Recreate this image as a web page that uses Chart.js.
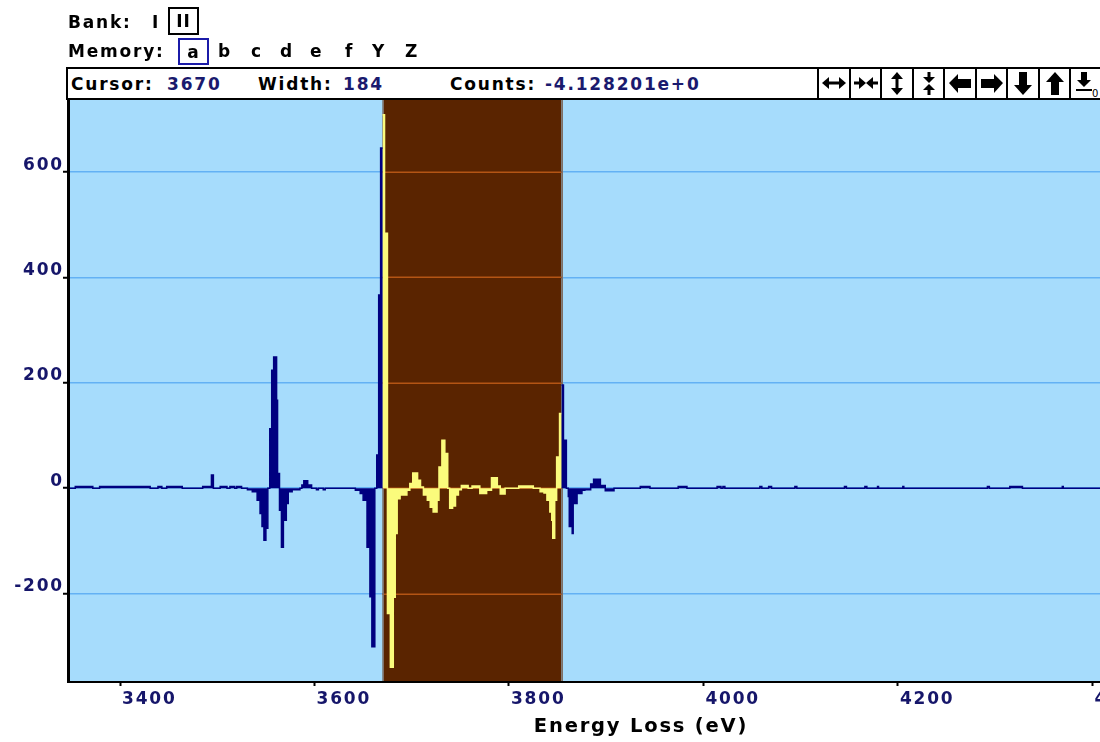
<!DOCTYPE html>
<html>
<head>
<meta charset="utf-8">
<title>Energy Loss spectrum</title>
<script src="https://cdn.jsdelivr.net/npm/chart.js@4/dist/chart.umd.min.js"></script>
<style>
  html, body { margin: 0; padding: 0; background: #fff; overflow: hidden; }
  body { width: 1100px; height: 742px; position: relative; font-family: "DejaVu Sans", sans-serif; }
  #spectrum { position: absolute; left: 0; top: 0; }
  .t { position: absolute; font-weight: bold; font-size: 17px; line-height: 20px; color: #000; letter-spacing: 1.8px; white-space: pre; }
  .num { color: #1a1a6e; }
  .box { position: absolute; box-sizing: border-box; border: 2px solid #000; display: flex; align-items: center; justify-content: center;
         font-weight: bold; font-size: 17px; letter-spacing: 1px; }
  .box.navy { border-color: #1b1ba8; }
  #status { position: absolute; left: 66px; top: 67px; width: 1180px; height: 33px; box-sizing: border-box; border: 2px solid #000; background: #fff; z-index: 2; }
  #status .t { top: 5px; }
  .btn { position: absolute; top: 0; width: 31.5px; height: 29px; box-sizing: border-box; border-left: 2px solid #000; }
  .btn svg { display: block; margin: 1px 0 0 1px; }
</style>
</head>
<body>
<canvas id="spectrum" width="1224" height="742"></canvas>

<span class="t" style="left:68px;top:12px">Bank:</span>
<span class="t" style="left:152px;top:12px">I</span>
<span class="box" style="left:168px;top:7px;width:31px;height:28px">II</span>
<span class="t" style="left:68px;top:41px">Memory:</span>
<span class="box navy" style="left:178px;top:38px;width:31px;height:27px">a</span>
<span class="t" style="left:218px;top:41px">b</span>
<span class="t" style="left:251px;top:41px">c</span>
<span class="t" style="left:280px;top:41px">d</span>
<span class="t" style="left:310px;top:41px">e</span>
<span class="t" style="left:345px;top:41px">f</span>
<span class="t" style="left:372px;top:41px">Y</span>
<span class="t" style="left:405px;top:41px">Z</span>

<div id="status">
  <span class="t" style="left:3px">Cursor:</span>
  <span class="t num" style="left:99px">3670</span>
  <span class="t" style="left:190px">Width:</span>
  <span class="t num" style="left:275px">184</span>
  <span class="t" style="left:382px">Counts:</span>
  <span class="t num" style="left:477px">-4.128201e+0</span>

  <div class="btn" style="left:749px"><svg width="28" height="27" viewBox="0 0 28 27">
    <polygon points="2,13 9,7 9,19"/><rect x="9" y="11.5" width="10" height="3"/><polygon points="26,13 19,7 19,19"/></svg></div>
  <div class="btn" style="left:780.5px"><svg width="28" height="27" viewBox="0 0 28 27">
    <rect x="2" y="11.5" width="5" height="3"/><polygon points="14,13 7,7 7,19"/><polygon points="14,13 21,7 21,19"/><rect x="21" y="11.5" width="5" height="3"/></svg></div>
  <div class="btn" style="left:812px"><svg width="28" height="27" viewBox="0 0 28 27">
    <polygon points="14,2 8,9 20,9"/><rect x="12.5" y="9" width="3" height="9"/><polygon points="14,25 8,18 20,18"/></svg></div>
  <div class="btn" style="left:843.5px"><svg width="28" height="27" viewBox="0 0 28 27">
    <rect x="12.5" y="2" width="3" height="5"/><polygon points="14,13 8,7 20,7"/><polygon points="14,14 8,20 20,20"/><rect x="12.5" y="20" width="3" height="5"/></svg></div>
  <div class="btn" style="left:875px"><svg width="28" height="27" viewBox="0 0 28 27">
    <polygon points="3,13 12,4 12,9 25,9 25,18 12,18 12,23"/></svg></div>
  <div class="btn" style="left:906.5px"><svg width="28" height="27" viewBox="0 0 28 27">
    <polygon points="25,13 16,4 16,9 3,9 3,18 16,18 16,23"/></svg></div>
  <div class="btn" style="left:938px"><svg width="28" height="27" viewBox="0 0 28 27">
    <polygon points="14,25 5,15 10,15 10,2 18,2 18,15 23,15"/></svg></div>
  <div class="btn" style="left:969.5px"><svg width="28" height="27" viewBox="0 0 28 27">
    <polygon points="14,2 5,12 10,12 10,25 18,25 18,12 23,12"/></svg></div>
  <div class="btn" style="left:1001px"><svg width="28" height="27" viewBox="0 0 28 27">
    <polygon points="12,17 5,10 9,10 9,2 15,2 15,10 19,10"/><rect x="4" y="19" width="16" height="2"/>
    <text x="20" y="27" font-family="DejaVu Sans" font-size="10">0</text></svg></div>
  <div class="btn" style="left:1032.5px"></div>
</div>

<script>
// energy-loss channels (eV) where the count changes; each value holds until the next entry
const energy = [
  3346, 3354, 3372, 3379, 3431, 3439, 3443, 3448, 3464, 3485, 3494, 3496,
  3503, 3510, 3513, 3518, 3520, 3525, 3531,
  3536, 3541, 3544, 3546, 3548, 3550, 3552,
  3554, 3556, 3558, 3561, 3562,
  3564, 3566, 3568, 3571, 3573, 3577, 3585,
  3587, 3589, 3593, 3597, 3602, 3604, 3609, 3611,
  3642, 3647, 3650, 3654, 3657, 3659, 3662,
  3664, 3666, 3668,
  3670, 3672, 3675, 3678, 3681, 3683, 3685, 3688, 3695,
  3698, 3701, 3706, 3709,
  3712, 3716, 3719, 3722, 3726,
  3728, 3731, 3734, 3737,
  3739, 3742, 3745, 3748, 3751, 3758, 3762, 3770, 3777, 3782, 3788, 3791, 3796, 3810, 3825,
  3832, 3836, 3839, 3842, 3844, 3845, 3847, 3849, 3852,
  3854, 3856, 3859,
  3861, 3862, 3865, 3866, 3870, 3875, 3878, 3884, 3887, 3894, 3899, 3908,
  3935, 3945, 3974, 3983, 4014, 4018, 4020, 4022, 4058, 4060, 4067, 4070,
  4094, 4096, 4145, 4147, 4166, 4168, 4179, 4180, 4205, 4206,
  4292, 4294, 4315, 4328, 4369, 4370, 4525
];
const counts = [
  0, 3, 0, 3, 0, 3, 0, 3, 0, 3, 25, 0,
  3, 0, 3, 0, 3, 0, -3,
  -7, -23, -48, -73, -99, -76, 0,
  113, 224, 249, 167, 28,
  -42, -112, -61, -29, -7, -3, 0,
  6, 14, 6, 0, -3, 0, -3, 0,
  -4, -10, -23, -112, -206, -301, 0,
  63, 367, 646,
  709, 484, -238, -340, -207, -86, -20, -13, -4,
  9, 29, 15, 2,
  -13, -23, -36, -45, -23,
  40, 91, 66, 0,
  -38, -34, -13, -3, 5, 0, 4, -10, -4, 20, 4, -11, 0, 4, 0,
  -7, -9, -23, -45, -61, -95, -23, 59, 142,
  196, 91, 0,
  -16, -73, -86, -29, -10, -4, -3, 8, 17, 5, -5, 0,
  3, 0, 3, 0, 3, 0, 3, 0, 3, 0, 3, 0,
  3, 0, 3, 0, 3, 0, 3, 0, 3, 0,
  3, 0, 3, 0, 3, 0, 0
];

// integration window (cursor position and width)
const bandStart = 3670;
const bandWidth = 184;

const xTicks = [3400, 3600, 3800, 4000, 4200, 4400];
const yTicks = [-200, 0, 200, 400, 600];
const xMin = 3346.5, xMax = 4525;
const yMin = -368, yMax = 737;

const skyBlue = '#a6dcfc';
const gridBlue = '#63b1f4';
const brown = '#5a2400';
const gridOrange = '#b45514';
const navy = '#000080';
const yellow = '#fbfb7c';
const labelNavy = '#16166a';

function valueAt(e) {
  let v = 0;
  for (let i = 0; i < energy.length; i++) {
    if (energy[i] <= e) v = counts[i];
  }
  return v;
}

// points from lo up to hi, closed at hi so the last step ends there
function segment(lo, hi) {
  const out = [];
  energy.forEach((e, i) => {
    if (e >= lo && e < hi) out.push({x: e, y: counts[i]});
  });
  if (!out.length || out[0].x > lo) out.unshift({x: lo, y: valueAt(lo)});
  out.push({x: hi, y: valueAt(hi - 0.01)});
  return out;
}

const bandEnd = bandStart + bandWidth;
const outsidePts = segment(xMin, bandStart)
  .concat([{x: bandStart + bandWidth / 2, y: null}], segment(bandEnd, xMax));
const windowPts = segment(bandStart, bandEnd);

// wide bitmap-style lettering for the axis text
const spacing = {
  id: 'spacing',
  beforeLayout(chart) { chart.ctx.letterSpacing = '1.8px'; },
  beforeDraw(chart) { chart.ctx.letterSpacing = '1.8px'; }
};

const backdrop = {
  id: 'backdrop',
  beforeDraw(chart) {
    const {ctx, chartArea: a} = chart;
    ctx.save();
    ctx.fillStyle = skyBlue;
    ctx.fillRect(a.left, a.top, a.right - a.left, a.bottom - a.top);
    ctx.restore();
  },
  beforeDatasetsDraw(chart) {
    const {ctx, chartArea: a, scales: {x, y}} = chart;
    const x0 = x.getPixelForValue(bandStart);
    const x1 = x.getPixelForValue(bandEnd);
    ctx.save();
    ctx.fillStyle = brown;
    ctx.fillRect(x0, a.top, x1 - x0, a.bottom - a.top);
    ctx.strokeStyle = gridOrange;
    ctx.lineWidth = 1.5;
    y.ticks.forEach(t => {
      const py = Math.round(y.getPixelForValue(t.value)) + 0.25;
      ctx.beginPath();
      ctx.moveTo(x0, py);
      ctx.lineTo(x1, py);
      ctx.stroke();
    });
    ctx.strokeStyle = '#7e7068';
    ctx.lineWidth = 1;
    [x0, x1].forEach(px => {
      ctx.beginPath();
      ctx.moveTo(Math.round(px) + 0.5, a.top);
      ctx.lineTo(Math.round(px) + 0.5, a.bottom);
      ctx.stroke();
    });
    ctx.restore();
  }
};

const tickFont = {family: 'DejaVu Sans', size: 17, weight: 'bold'};

new Chart(document.getElementById('spectrum'), {
  type: 'line',
  data: {
    datasets: [
      {
        label: 'spectrum',
        data: outsidePts,
        borderColor: navy,
        backgroundColor: navy,
        borderWidth: 1.5,
        fill: 'origin',
        stepped: true,
        pointRadius: 0,
        spanGaps: false
      },
      {
        label: 'window',
        data: windowPts,
        borderColor: yellow,
        backgroundColor: yellow,
        borderWidth: 1.5,
        fill: 'origin',
        stepped: true,
        pointRadius: 0
      }
    ]
  },
  options: {
    responsive: false,
    animation: false,
    devicePixelRatio: 1,
    layout: {padding: {top: 100, right: 10, left: 0, bottom: 0}},
    plugins: {
      legend: {display: false},
      tooltip: {enabled: false}
    },
    scales: {
      x: {
        type: 'linear',
        min: xMin,
        max: xMax,
        afterBuildTicks: s => { s.ticks = xTicks.map(v => ({value: v})); },
        afterFit: s => { s.height = 60; },
        grid: {drawOnChartArea: false, tickLength: 4, tickWidth: 2, tickColor: '#000'},
        border: {color: '#000', width: 2, z: 1},
        ticks: {
          align: 'start',
          labelOffset: 2,
          padding: 3,
          maxRotation: 0,
          autoSkip: false,
          color: labelNavy,
          font: tickFont,
          callback: v => String(v)
        },
        title: {
          display: true,
          text: 'Energy Loss (eV)',
          color: '#000',
          font: {family: 'DejaVu Sans', size: 19.5, weight: 'bold'},
          padding: {top: 2, bottom: 3}
        }
      },
      y: {
        min: yMin,
        max: yMax,
        afterBuildTicks: s => { s.ticks = yTicks.map(v => ({value: v})); },
        afterFit: s => { s.width = 68; },
        grid: {color: gridBlue, lineWidth: 1.5, tickLength: 5, tickWidth: 2, tickColor: '#000'},
        border: {color: '#000', width: 3, z: 1},
        ticks: {
          labelOffset: -7,
          padding: -1,
          color: labelNavy,
          font: tickFont,
          callback: v => String(v)
        }
      }
    }
  },
  plugins: [spacing, backdrop]
});
</script>
</body>
</html>
